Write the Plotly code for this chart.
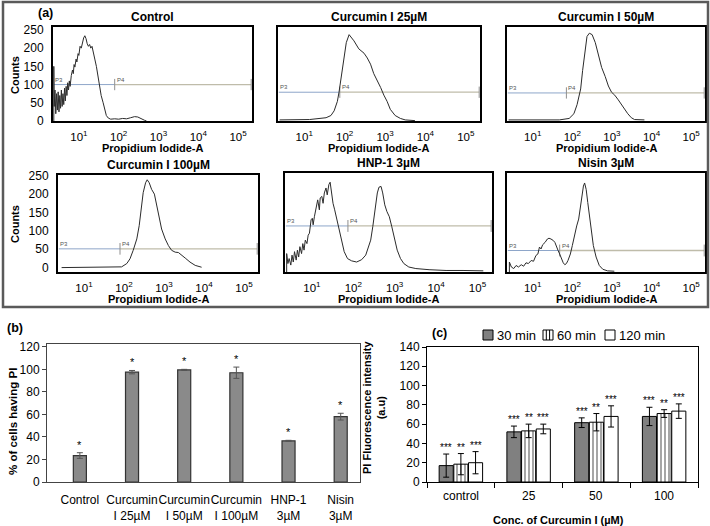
import plotly.graph_objects as go

W, H = 710, 526

# ---------------- data ----------------
HIST_TITLES = ["Control", "Curcumin I 25µM", "Curcumin I 50µM",
               "Curcumin I 100µM", "HNP-1 3µM", "Nisin 3µM"]
DECADE_TICKS = [1, 2, 3, 4, 5]
DECADE_LABELS = ["10<sup>1</sup>", "10<sup>2</sup>", "10<sup>3</sup>", "10<sup>4</sup>", "10<sup>5</sup>"]
COUNT_TICKS = [0, 50, 100, 150, 200, 250]

# log10(PI intensity) / counts
CTRL_X = [0.37, 0.37, 0.38, 0.40, 0.42, 0.44, 0.46, 0.48, 0.50, 0.52, 0.54, 0.56, 0.58, 0.60, 0.62, 0.64,
          0.66, 0.68, 0.70, 0.72, 0.74, 0.76, 0.78, 0.81, 0.84, 0.86, 0.88, 0.90, 0.93, 0.95, 0.98, 1.00,
          1.03, 1.06, 1.09, 1.12, 1.15, 1.18, 1.21, 1.24, 1.27, 1.30, 1.33, 1.36, 1.40, 1.44, 1.48, 1.52,
          1.56, 1.61, 1.65, 1.69, 1.74, 1.80, 1.90, 2.00, 2.10, 2.20, 2.30, 2.40, 2.48, 2.56, 2.65, 2.70]
CTRL_Y = [0, 150, 40, 85, 20, 75, 30, 80, 25, 70, 35, 85, 40, 75, 45, 90,
          55, 95, 70, 105, 85, 110, 95, 125, 140, 130, 155, 148, 170, 162, 185, 180,
          205, 200, 215, 228, 234, 226, 212, 205, 210, 200, 205, 185, 170, 150, 120, 95,
          70, 50, 30, 15, 8, 5, 6, 5, 7, 6, 9, 12, 11, 6, 2, 0]

C25_X = [0.39, 1.13, 1.54, 1.66, 1.74, 1.82, 1.86, 1.93, 1.99, 2.04, 2.11, 2.15, 2.23, 2.35, 2.48, 2.56,
         2.64, 2.72, 2.80, 2.89, 2.97, 3.05, 3.13, 3.25, 3.38, 3.50, 3.74]
C25_Y = [3, 4, 9, 15, 28, 54, 79, 130, 181, 215, 237, 232, 220, 198, 186, 173,
         156, 130, 113, 92, 71, 54, 32, 15, 7, 3, 1]

C50_X = [0.39, 1.67, 1.92, 2.04, 2.12, 2.21, 2.26, 2.31, 2.37, 2.43, 2.50, 2.58, 2.66, 2.74, 2.83, 2.91,
         2.99, 3.07, 3.16, 3.24, 3.32, 3.40, 3.49, 3.57, 3.82]
C50_Y = [3, 3, 7, 20, 45, 88, 139, 190, 232, 241, 237, 215, 181, 147, 122, 96,
         79, 71, 58, 45, 32, 20, 9, 4, 3]

C100_X = [0.44, 1.78, 1.94, 2.07, 2.15, 2.23, 2.32, 2.38, 2.43, 2.48, 2.54, 2.58, 2.63, 2.69, 2.76, 2.82,
          2.88, 2.94, 3.03, 3.11, 3.19, 3.28, 3.36, 3.44, 3.53, 3.65, 3.78, 3.94]
C100_Y = [0, 0, 2, 11, 24, 47, 78, 114, 168, 204, 231, 239, 231, 213, 200, 168,
          132, 105, 78, 60, 47, 42, 41, 35, 26, 15, 6, 1]

HNP_X = [0.39, 0.39, 0.42, 0.45, 0.49, 0.52, 0.55, 0.58, 0.62, 0.65, 0.68, 0.71, 0.75, 0.78, 0.81, 0.84,
         0.88, 0.91, 0.94, 0.98, 1.01, 1.03, 1.06, 1.10, 1.14, 1.18, 1.20, 1.24, 1.27, 1.30, 1.34, 1.37,
         1.41, 1.44, 1.47, 1.51, 1.55, 1.59, 1.64, 1.71, 1.78, 1.86, 1.96, 2.08, 2.20, 2.30, 2.36, 2.42,
         2.47, 2.53, 2.58, 2.62, 2.67, 2.71, 2.76, 2.81, 2.87, 2.93, 3.00, 3.06, 3.14, 3.22, 3.34, 3.51,
         3.83, 4.24, 4.65, 5.14]
HNP_Y = [0, 48, 22, 35, 18, 44, 26, 53, 31, 57, 39, 66, 48, 74, 57, 83,
         74, 96, 101, 136, 140, 123, 144, 171, 188, 162, 193, 197, 179, 206, 219, 201,
         228, 234, 206, 179, 162, 144, 118, 83, 53, 35, 29, 26, 32, 44, 61, 83,
         118, 171, 206, 221, 223, 206, 175, 158, 144, 118, 83, 57, 35, 22, 13, 9,
         6, 4, 4, 3]

NIS_X = [0.41, 0.41, 0.46, 0.52, 0.58, 0.64, 0.71, 0.77, 0.83, 0.89, 0.96, 1.02, 1.08, 1.13, 1.17, 1.21,
         1.25, 1.31, 1.37, 1.41, 1.46, 1.52, 1.56, 1.60, 1.64, 1.68, 1.73, 1.77, 1.81, 1.85, 1.89, 1.95,
         2.00, 2.06, 2.11, 2.16, 2.21, 2.24, 2.28, 2.31, 2.35, 2.39, 2.43, 2.48, 2.53, 2.60, 2.68, 2.77,
         2.89, 3.06]
NIS_Y = [0, 26, 13, 9, 17, 13, 19, 15, 24, 22, 30, 28, 43, 47, 65, 60,
         71, 77, 86, 88, 86, 82, 77, 65, 56, 47, 34, 24, 19, 22, 30, 47,
         69, 99, 120, 138, 172, 198, 224, 232, 215, 181, 146, 112, 69, 39, 17, 7,
         3, 2]

HIST_X = [CTRL_X, C25_X, C50_X, C100_X, HNP_X, NIS_X]
HIST_Y = [CTRL_Y, C25_Y, C50_Y, C100_Y, HNP_Y, NIS_Y]
GATE_LEVEL = [100, 79, 77, 51, 120, 56]
GATE_P4 = [1.90, 1.88, 1.85, 1.90, 1.87, 1.68]

# panel (b)
B_CATS = ["Control", "Curcumin<br>I 25µM", "Curcumin<br>I 50µM", "Curcumin<br>I 100µM",
          "HNP-1<br>3µM", "Nisin<br>3µM"]
B_VALS = [23.5, 97.5, 99.5, 97, 36.5, 58]
B_ERRS = [2.5, 1.5, 0.5, 5, 0.5, 3]
B_STARS = ["*", "*", "*", "*", "*", "*"]
B_TICKS = [0, 20, 40, 60, 80, 100, 120]

# panel (c)
C_CATS = ["control", "25", "50", "100"]
C_NAMES = ["30 min", "60 min", "120 min"]
C_30 = [17, 52, 61.5, 68]
C_30_ERR = [12, 6, 5, 9.5]
C_60 = [18.5, 53, 62, 71]
C_60_ERR = [11, 7, 9, 4]
C_120 = [20, 55, 68, 73.5]
C_120_ERR = [11.5, 5, 11, 7.5]
C_STARS = [["***"] * 4, ["**"] * 4, ["***"] * 4]
C_TICKS = [0, 20, 40, 60, 80, 100, 120, 140]

# ---------------- layout helpers ----------------
def fx(px):
    return px / W

def fy(py):
    return 1 - py / H

FONT = "Liberation Sans, Arial, sans-serif"
fig = go.Figure()


def label(px, py, text, size, angle=0, anchor="center", color="black"):
    fig.add_annotation(x=fx(px), y=fy(py), xref="paper", yref="paper", text=text,
                       textangle=angle, showarrow=False, xanchor=anchor, yanchor="middle",
                       font=dict(size=size, color=color, family=FONT))


# histogram boxes: (left, right, top, bottom) in px, y-range
HIST_BOX = [(53, 252, 27, 121), (278, 480, 27, 121), (507, 705, 27, 121),
            (58, 258, 175, 272), (285, 492, 173, 272), (507, 705, 173, 272)]
HIST_YR = [[0, 258], [0, 258], [0, 258], [-12, 252], [0, 258], [0, 258]]
XR = [0.35, 5.35]

for i in range(6):
    n = i + 1
    xa = "x" if n == 1 else f"x{n}"
    ya = "y" if n == 1 else f"y{n}"
    l, r, t, b = HIST_BOX[i]
    show_y = i in (0, 3)
    fig.update_layout(**{
        ("xaxis" if n == 1 else f"xaxis{n}"): dict(
            domain=[fx(l), fx(r)], anchor=ya, range=XR, showgrid=False, zeroline=False,
            showline=True, mirror=True, linecolor="black", linewidth=2, automargin=False,
            tickvals=DECADE_TICKS, ticktext=DECADE_LABELS, ticks="", tickangle=0,
            tickfont=dict(size=11.5, color="black", family=FONT), ticklabelstandoff=4),
        ("yaxis" if n == 1 else f"yaxis{n}"): dict(
            domain=[fy(b), fy(t)], anchor=xa, range=HIST_YR[i], showgrid=False, zeroline=False,
            showline=True, mirror=True, linecolor="black", linewidth=2, automargin=False,
            tickvals=COUNT_TICKS, showticklabels=show_y, ticks="",
            tickfont=dict(size=12, color="black", family=FONT), ticklabelstandoff=5),
    })
    gy = GATE_LEVEL[i]
    p4 = GATE_P4[i]
    tick = (HIST_YR[i][1] - HIST_YR[i][0]) * 0.06
    # gate P3 (blue) and P4 (grey) segments
    fig.add_trace(go.Scatter(x=[XR[0] + 0.02, p4], y=[gy, gy], mode="lines",
                             line=dict(color="#8ea6c9", width=1), xaxis=xa, yaxis=ya,
                             hoverinfo="skip", showlegend=False))
    fig.add_trace(go.Scatter(x=[p4, XR[1] - 0.02], y=[gy, gy], mode="lines",
                             line=dict(color="#bfbcaa", width=1.3), xaxis=xa, yaxis=ya,
                             hoverinfo="skip", showlegend=False))
    for gx in (p4, XR[1] - 0.02):
        fig.add_trace(go.Scatter(x=[gx, gx], y=[gy - tick, gy + tick], mode="lines",
                                 line=dict(color="#8f8f8f", width=1), xaxis=xa, yaxis=ya,
                                 hoverinfo="skip", showlegend=False))
    fig.add_trace(go.Scatter(x=HIST_X[i], y=HIST_Y[i], mode="lines",
                             line=dict(color="#2b2b2b", width=1), xaxis=xa, yaxis=ya,
                             hoverinfo="skip", showlegend=False))
    fig.add_annotation(x=XR[0], y=gy, xref=xa, yref=ya, text="P3", showarrow=False,
                       xanchor="left", yanchor="bottom", font=dict(size=6, color="#555", family=FONT))
    fig.add_annotation(x=p4, y=gy, xref=xa, yref=ya, text="P4", showarrow=False,
                       xanchor="left", yanchor="bottom", font=dict(size=6, color="#555", family=FONT))
    # title and x label
    label((l + r) / 2, t - 10, f"<b>{HIST_TITLES[i]}</b>", 12)
    label((l + r) / 2, b + 27, "<b>Propidium Iodide-A</b>", 11)

for cy in (75, 224):
    label(15, cy, "<b>Counts</b>", 11, angle=-90)

# outer frame of panel (a)
fig.add_shape(type="rect", xref="paper", yref="paper", x0=fx(3), x1=fx(708), y0=fy(307), y1=fy(2),
              line=dict(color="#5a5a5a", width=2.5))
label(45, 13, "<b>(a)</b>", 12.5)

# ---------------- panel (b) ----------------
B_POS = list(range(len(B_CATS)))
fig.add_trace(go.Bar(x=B_POS, y=B_VALS, width=0.25, xaxis="x7", yaxis="y7",
                     marker=dict(color="#8a8a8a", line=dict(color="#333333", width=1.2)),
                     error_y=dict(type="data", array=B_ERRS, color="#555555", thickness=1, width=3),
                     showlegend=False, hoverinfo="skip"))
for p, v, e, s in zip(B_POS, B_VALS, B_ERRS, B_STARS):
    fig.add_annotation(x=p, y=v + e, xref="x7", yref="y7", text=s, showarrow=False,
                       yanchor="bottom", yshift=0, font=dict(size=11, color="black", family=FONT))
fig.update_layout(
    xaxis7=dict(domain=[fx(47), fx(360)], anchor="y7", range=[-0.63, 5.37], showgrid=False,
                showline=True, mirror=True, linecolor="#444", linewidth=1, ticks="", automargin=False,
                tickvals=B_POS, ticktext=B_CATS, tickangle=0, zeroline=False,
                tickfont=dict(size=12, color="black", family=FONT), ticklabelstandoff=7),
    yaxis7=dict(domain=[fy(482), fy(344)], anchor="x7", range=[0, 122.5], tickvals=B_TICKS,
                showgrid=False, zeroline=False, showline=True, mirror=True, linecolor="#444",
                linewidth=1, ticks="outside", ticklen=4, tickcolor="#444", automargin=False,
                tickfont=dict(size=12, color="black", family=FONT)),
)
label(15, 328, "<b>(b)</b>", 12.5)
label(13, 422, "<b>% of cells having PI</b>", 11.5, angle=-90)

# ---------------- panel (c) ----------------
C_POS = list(range(len(C_CATS)))
C_VALS = [C_30, C_60, C_120]
C_ERRS = [C_30_ERR, C_60_ERR, C_120_ERR]
C_MARKERS = [dict(color="#808080", line=dict(color="black", width=1)),
             dict(color="white", line=dict(color="black", width=1),
                  pattern=dict(shape="|", fgcolor="black", bgcolor="white", size=4, solidity=0.35)),
             dict(color="white", line=dict(color="black", width=1))]
for k in range(3):
    fig.add_trace(go.Bar(x=C_POS, y=C_VALS[k], name=C_NAMES[k], xaxis="x8", yaxis="y8",
                         marker=C_MARKERS[k], showlegend=False,
                         error_y=dict(type="data", array=C_ERRS[k], color="black", thickness=1, width=3),
                         hoverinfo="skip"))
    for p, v, e, s in zip(C_POS, C_VALS[k], C_ERRS[k], C_STARS[k]):
        fig.add_annotation(x=p, y=v + e, xref="x8", yref="y8", text=s, showarrow=False,
                           xshift=(k - 1) * 14.7, yanchor="bottom", yshift=-1,
                           font=dict(size=10, color="black", family=FONT))
fig.update_layout(
    xaxis8=dict(domain=[fx(427), fx(698)], anchor="y8", range=[-0.5, 3.5], showgrid=False,
                showline=True, mirror=True, linecolor="black", linewidth=1, ticks="outside",
                tickvals=[-0.5, 0.5, 1.5, 2.5, 3.5], showticklabels=False, zeroline=False,
                ticklen=5, tickcolor="black", automargin=False),
    yaxis8=dict(domain=[fy(482), fy(347)], anchor="x8", range=[0, 140], tickvals=C_TICKS,
                showgrid=False, zeroline=False, showline=True, mirror=True, linecolor="black",
                linewidth=1, ticks="outside", ticklen=4, tickcolor="black", automargin=False,
                tickfont=dict(size=12, color="black", family=FONT)),
)
for p, c in zip(C_POS, C_CATS):
    fig.add_annotation(x=p, y=0, xref="x8", yref="y8", text=c, showarrow=False,
                       yanchor="top", yshift=-5, font=dict(size=12, color="black", family=FONT))

# legend of panel (c), drawn as swatches + labels
LEG_X = [483, 543, 605]
for k in range(3):
    x0 = LEG_X[k]
    fig.add_shape(type="rect", xref="paper", yref="paper", x0=fx(x0), x1=fx(x0 + 10),
                  y0=fy(340), y1=fy(330), fillcolor=C_MARKERS[k]["color"],
                  line=dict(color="black", width=1))
    if k == 1:
        for sx in (x0 + 3.3, x0 + 6.6):
            fig.add_shape(type="line", xref="paper", yref="paper", x0=fx(sx), x1=fx(sx),
                          y0=fy(340), y1=fy(330), line=dict(color="black", width=1))
    label(x0 + 12, 335, C_NAMES[k], 13, anchor="left")

label(440, 333, "<b>(c)</b>", 12.5)
label(374, 407, "<b>PI Fluorescence intensity<br>(a.u)</b>", 11, angle=-90)
label(558, 520, "<b>Conc. of Curcumin I (µM)</b>", 11)

fig.update_layout(
    width=W, height=H, margin=dict(l=0, r=0, t=0, b=0, autoexpand=False),
    paper_bgcolor="white", plot_bgcolor="white", showlegend=False,
    barmode="group", bargap=0.35, bargroupgap=0.04,
    font=dict(family=FONT, color="black"),
)

fig.write_html("out.html", config={"displayModeBar": False},
               post_script="document.body.style.margin='0px';")
